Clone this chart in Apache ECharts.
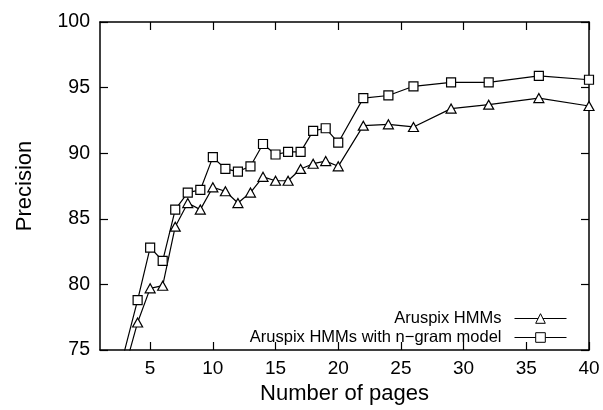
<!DOCTYPE html>
<html>
<head>
<meta charset="utf-8">
<title>Precision vs number of pages</title>
<script src="https://cdn.jsdelivr.net/npm/echarts@6/dist/echarts.min.js"></script>
<style>
  html, body { margin: 0; padding: 0; background: #fff; }
  #chart { width: 603px; height: 410px; }
</style>
</head>
<body>
<div id="chart"></div>
<script>
// pages used for training (x values)
const pages = [2, 4, 5, 6, 7, 8, 9, 10, 11, 12, 13, 14, 15, 16, 17, 18, 19, 20, 22, 24, 26, 29, 32, 36, 40]
// precision of plain HMMs
const hmmPrecision = [70.2, 77.1, 79.7, 79.9, 84.4, 86.2, 85.7, 87.4, 87.1, 86.2, 87.0, 88.2, 87.9, 87.9, 88.8, 89.2, 89.4, 89.0, 92.1, 92.2, 92.0, 93.4, 93.7, 94.2, 93.6]
// precision of HMMs + n-gram model
const ngramPrecision = [71.4, 78.8, 82.8, 81.8, 85.7, 87.0, 87.2, 89.7, 88.8, 88.6, 89.0, 90.7, 89.9, 90.1, 90.1, 91.7, 91.9, 90.8, 94.2, 94.4, 95.1, 95.4, 95.4, 95.9, 95.6]
const xTicks = [5, 10, 15, 20, 25, 30, 35, 40]
const seriesNames = ['Aruspix HMMs', 'Aruspix HMMs with n\u2212gram model']

const font = 'Liberation Sans, Arial, Helvetica, sans-serif'

const chart = echarts.init(document.getElementById('chart'), null, { renderer: 'canvas' })

// same look for all four sides of the box
const boxLine = { show: true, onZero: false, lineStyle: { color: '#000', width: 1.5 } }
const tick = { show: true, inside: true, length: 8, lineStyle: { color: '#000', width: 1.2 } }

function toPairs(ys) {
  return pages.map((p, i) => [p, ys[i]])
}

function legendFor(name, top) {
  return {
    data: [name],
    right: 36,
    top: top,
    orient: 'horizontal',
    align: 'right',
    padding: 0,
    itemGap: 0,
    itemWidth: 52,
    itemHeight: 12,
    selectedMode: false,
    lineStyle: { width: 1 },
    itemStyle: { borderWidth: 1 },
    textStyle: {
      fontFamily: font,
      fontSize: 16.5,
      color: '#000',
      padding: [0, 8, 0, 0]
    }
  }
}

const option = {
  animation: false,
  backgroundColor: '#fff',
  grid: {
    left: 100,
    right: 14,
    top: 22,
    bottom: 55,
    containLabel: false
  },
  legend: [
    legendFor(seriesNames[0], 310),
    legendFor(seriesNames[1], 329)
  ],
  xAxis: [
    {
      type: 'value',
      position: 'bottom',
      min: 1,
      max: 40,
      name: 'Number of pages',
      nameLocation: 'middle',
      nameGap: 33,
      nameTextStyle: { fontFamily: font, fontSize: 22, color: '#000' },
      axisLine: boxLine,
      axisTick: Object.assign({ customValues: xTicks }, tick),
      axisLabel: {
        customValues: xTicks,
        margin: 9,
        fontFamily: font,
        fontSize: 19,
        color: '#000'
      },
      splitLine: { show: false }
    },
    {
      // mirrored top border with ticks
      type: 'value',
      position: 'top',
      min: 1,
      max: 40,
      axisLine: boxLine,
      axisTick: Object.assign({ customValues: xTicks }, tick),
      axisLabel: { show: false },
      splitLine: { show: false }
    }
  ],
  yAxis: [
    {
      type: 'value',
      position: 'left',
      min: 75,
      max: 100,
      interval: 5,
      name: 'Precision',
      nameLocation: 'middle',
      nameGap: 64,
      nameTextStyle: { fontFamily: font, fontSize: 22, color: '#000' },
      axisLine: boxLine,
      axisTick: tick,
      axisLabel: {
        margin: 10,
        fontFamily: font,
        fontSize: 19.5,
        color: '#000'
      },
      splitLine: { show: false }
    },
    {
      // mirrored right border with ticks
      type: 'value',
      position: 'right',
      min: 75,
      max: 100,
      interval: 5,
      axisLine: boxLine,
      axisTick: tick,
      axisLabel: { show: false },
      splitLine: { show: false }
    }
  ],
  series: [
    {
      name: seriesNames[0],
      type: 'line',
      data: toPairs(hmmPrecision),
      clip: true,
      symbol: 'triangle',
      symbolSize: [10, 9],
      showAllSymbol: true,
      lineStyle: { color: '#000', width: 1.2 },
      itemStyle: { color: '#fff', borderColor: '#000', borderWidth: 1.2 },
      emphasis: { disabled: true }
    },
    {
      name: seriesNames[1],
      type: 'line',
      data: toPairs(ngramPrecision),
      clip: true,
      symbol: 'rect',
      symbolSize: 9,
      showAllSymbol: true,
      lineStyle: { color: '#000', width: 1.2 },
      itemStyle: { color: '#fff', borderColor: '#000', borderWidth: 1.2 },
      emphasis: { disabled: true }
    }
  ]
}

chart.setOption(option)
</script>
</body>
</html>
